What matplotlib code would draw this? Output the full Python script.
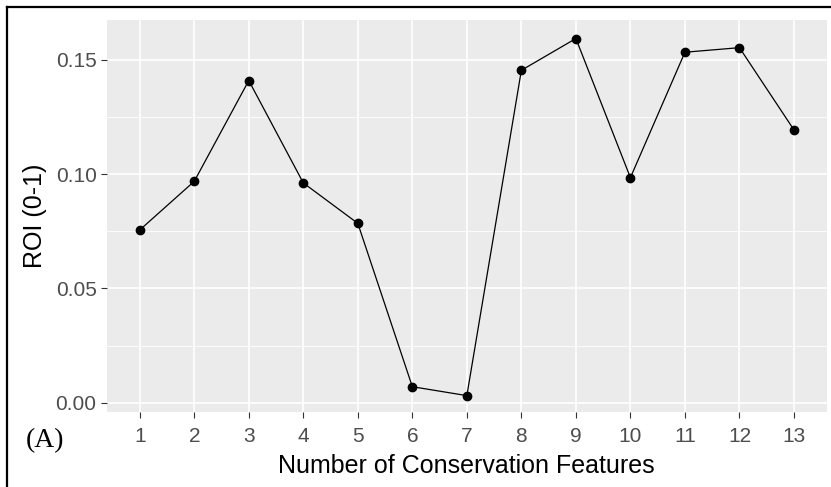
import matplotlib
matplotlib.use("Agg")
import matplotlib.pyplot as plt
from matplotlib.lines import Line2D

# Data
features = [1, 2, 3, 4, 5, 6, 7, 8, 9, 10, 11, 12, 13]
roi = [0.0756, 0.0969, 0.1410, 0.0962, 0.0785, 0.0070, 0.0031,
       0.1455, 0.1594, 0.0985, 0.1534, 0.1554, 0.1194]
y_ticks = [0.00, 0.05, 0.10, 0.15]
y_tick_labels = ['0.00', '0.05', '0.10', '0.15']
y_minor = [0.025, 0.075, 0.125]

plt.rcParams['font.family'] = ['Liberation Sans', 'DejaVu Sans']

fig = plt.figure(figsize=(8.31, 4.87), dpi=100)
ax = fig.add_axes([0.1288, 0.1534, 0.8660, 0.8055])

# ggplot-like panel
ax.set_facecolor('#EBEBEB')
for s in ax.spines.values():
    s.set_visible(False)
ax.set_axisbelow(True)

ax.set_xticks(features)
ax.set_xticklabels([str(f) for f in features])
ax.set_yticks(y_ticks)
ax.set_yticklabels(y_tick_labels)
ax.set_yticks(y_minor, minor=True)
ax.grid(True, which='major', color='white', linewidth=1.2)
ax.grid(True, which='minor', axis='y', color='white', linewidth=0.6)
ax.tick_params(which='major', length=4.5, width=0.8, color='#333333',
               labelcolor='#4D4D4D', labelsize=15, pad=3)
ax.tick_params(axis='x', which='major', pad=6)
ax.tick_params(which='minor', length=0)

ax.plot(features, roi, color='black', linewidth=0.9, marker='o',
        markersize=6, zorder=3)

ax.set_xlim(0.4, 13.6)
ax.set_ylim(-0.0042, 0.1675)

# axis titles
fig.text(466.5 / 831, 1 - 473 / 487, 'Number of Conservation Features',
         ha='center', va='baseline', fontsize=18)
fig.text(35 / 831, 1 - 216 / 487, 'ROI (0-1)', rotation=90,
         ha='center', va='center', fontsize=18)

# panel label
fig.text(45 / 831, 1 - 441 / 487, '(A)', ha='center', va='center',
         fontsize=20, family=['Liberation Serif', 'DejaVu Serif'])

# border on left and top
fig.add_artist(Line2D([7.3 / 831, 7.3 / 831], [0, 1 - 6.7 / 487],
                      transform=fig.transFigure, color='black', linewidth=1.6))
fig.add_artist(Line2D([7.3 / 831, 1], [1 - 6.7 / 487, 1 - 6.7 / 487],
                      transform=fig.transFigure, color='black', linewidth=1.6))

plt.savefig('out.png', dpi=100)
